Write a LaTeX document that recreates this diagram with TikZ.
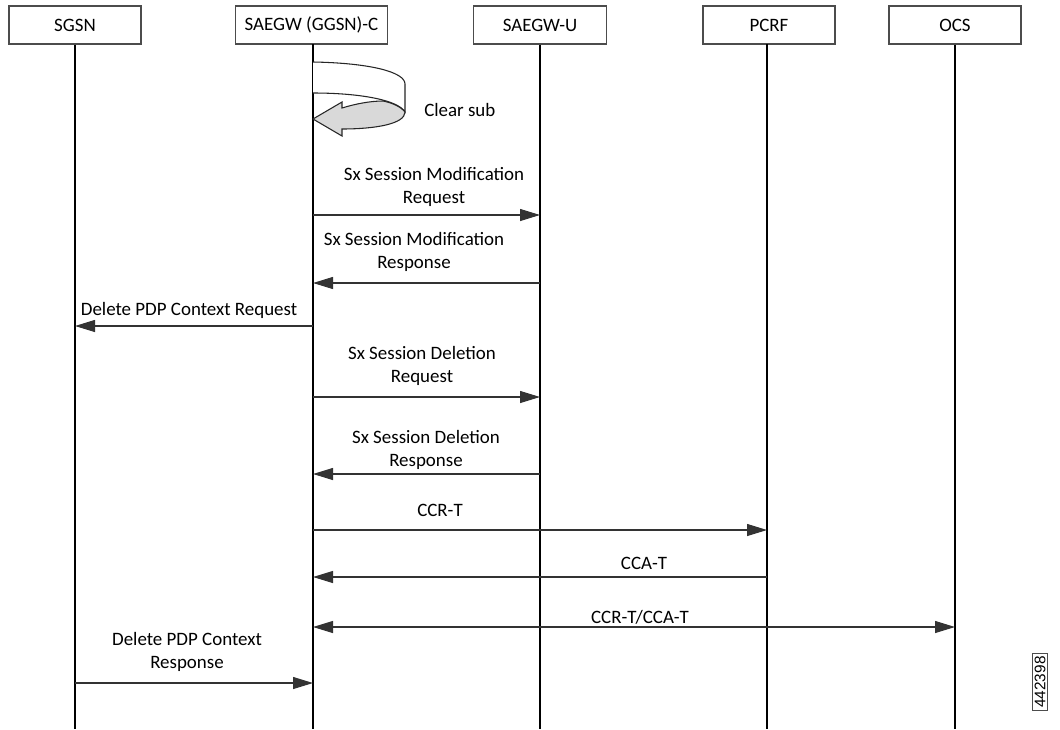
\documentclass[tikz,border=0pt]{standalone}
\usepackage{fontspec}
\setmainfont{Carlito}
\newfontfamily\tagfont{Liberation Sans}
\usetikzlibrary{arrows.meta}
\begin{document}
\begin{tikzpicture}[x=0.75pt,y=-0.75pt,
  entity/.style={draw=black!70,line width=0.8pt,minimum width=99pt,minimum height=28.5pt,inner sep=0pt,font=\fontsize{14.2}{17}\selectfont},
  lifeline/.style={draw=black,line width=1pt},
  msg/.style={draw=black!80,line width=0.8pt,-{Triangle[length=15pt,width=9pt]}},
  msgboth/.style={draw=black!80,line width=0.8pt,{Triangle[length=15pt,width=9pt]}-{Triangle[length=15pt,width=9pt]}},
  lbl/.style={align=center,inner sep=0pt,font=\fontsize{14.2}{17.3}\selectfont}]
\useasboundingbox (0,0) rectangle (1060,729);

% participants
\node[entity] (sgsn) at (75,25) {SGSN};
\node[entity,minimum width=114pt] (gwc) at (311.5,25) {SAEGW (GGSN)-C};
\node[entity,minimum width=100pt] (gwu) at (540,25) {SAEGW-U};
\node[entity] (pcrf) at (769,25) {PCRF};
\node[entity] (ocs) at (955,25) {OCS};

% lifelines
\coordinate (sgsnE) at (sgsn.south |- 0,729);
\coordinate (gwcE) at (313,729);
\coordinate (gwuE) at (gwu.south |- 0,729);
\coordinate (pcrfE) at (767,729);
\coordinate (ocsE) at (ocs.south |- 0,729);
\draw[lifeline] (sgsn.south) -- (sgsnE);
\draw[lifeline] (313,44) -- (gwcE);
\draw[lifeline] (gwu.south) -- (gwuE);
\draw[lifeline] (767,44) -- (pcrfE);
\draw[lifeline] (ocs.south) -- (ocsE);

% self action: curved block arrow
\draw[black!85,line width=0.8pt,fill=white]
  (313,62) .. controls (370,63) and (405,72) .. (405,84) -- (405,112)
  .. controls (398,100) and (360,93) .. (313,93);
\draw[black!85,line width=0.8pt,fill=black!15]
  (405,112) .. controls (405,124) and (375,129) .. (342,129)
  -- (342,136) -- (313,119) -- (342,102) -- (342,108)
  .. controls (355,104) and (370,101) .. (383,101)
  .. controls (393,103) and (401,107) .. (405,112) -- cycle;
\node[lbl,anchor=west] (clr) at (424,110) {Clear sub};

% messages
\node[lbl] (m1) at (434,187) {Sx Session Modification\\Request};
\draw[msg] (gwcE |- 0,215) -- (gwuE |- 0,215);

\node[lbl] (m2) at (414,252) {Sx Session Modification\\Response};
\draw[msg] (gwuE |- 0,283) -- (gwcE |- 0,283);

\node[lbl] (m3) at (189,310) {Delete PDP Context Request};
\draw[msg] (gwcE |- 0,326) -- (sgsnE |- 0,326);

\node[lbl] (m4) at (422,366) {Sx Session Deletion\\Request};
\draw[msg] (gwcE |- 0,397) -- (gwuE |- 0,397);

\node[lbl] (m5) at (426,450) {Sx Session Deletion\\Response};
\draw[msg] (gwuE |- 0,474) -- (gwcE |- 0,474);

\node[lbl] (m6) at (440,510) {CCR-T};
\draw[msg] (gwcE |- 0,530) -- (pcrfE |- 0,530);

\node[lbl] (m7) at (644,563) {CCA-T};
\draw[msg] (pcrfE |- 0,577) -- (gwcE |- 0,577);

\node[lbl] (m8) at (640,617) {CCR-T/CCA-T};
\draw[msgboth] (gwcE |- 0,627) -- (ocsE |- 0,627);

\node[lbl] (m9) at (187,652) {Delete PDP Context\\Response};
\draw[msg] (sgsnE |- 0,683) -- (gwcE |- 0,683);

% figure number
\node[draw=black!70,line width=0.6pt,rotate=90,inner xsep=2pt,inner ysep=1.5pt,font=\tagfont\fontsize{11.5}{12}\selectfont] (tag) at (1040,682) {442398};
\end{tikzpicture}
\end{document}
